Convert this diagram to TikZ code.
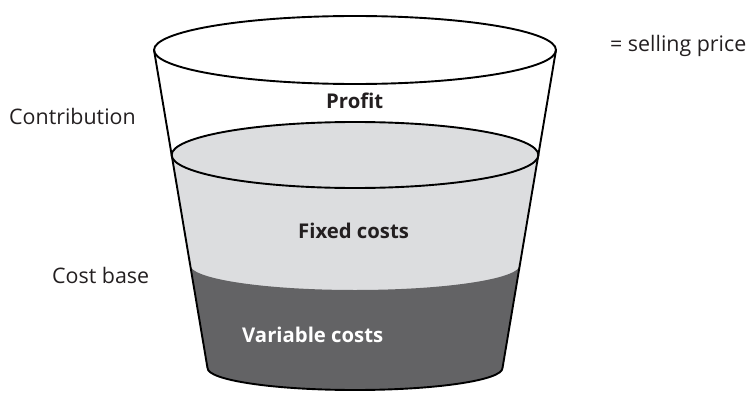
\documentclass[tikz,border=0pt]{standalone}
\usepackage{fontspec}
\setmainfont{Open Sans}
\definecolor{txt}{HTML}{231F20}
\definecolor{lightfill}{HTML}{DCDDDF}
\definecolor{darkfill}{HTML}{636365}
\tikzset{
  lbl/.style={inner sep=0pt, anchor=base west, text=txt, font=\fontsize{21.4}{25}\selectfont},
  blbl/.style={inner sep=0pt, anchor=base west, text=txt, font=\fontsize{20.3}{24}\selectfont\bfseries},
  rim/.style={draw=black, line width=1.9pt},
}
\begin{document}
\begin{tikzpicture}[x=1pt,y=1pt]
\useasboundingbox (0,0) rectangle (752,392);
% named points
\coordinate (tl) at (154,342);
\coordinate (tr) at (556,342);
\coordinate (bl) at (207.5,24);
\coordinate (br) at (502.5,24);
% light grey body
\fill[lightfill] (171.6,237) arc[start angle=180,end angle=0,x radius=183.4,y radius=33]
  -- (br) arc[start angle=0,end angle=-180,x radius=147.5,y radius=22] -- cycle;
% dark grey body
\fill[darkfill] (190.1,127) arc[start angle=180,end angle=360,x radius=164.9,y radius=25]
  -- (br) arc[start angle=0,end angle=-180,x radius=147.5,y radius=22] -- cycle;
% outlines
\draw[rim] (355,342) ellipse[x radius=201,y radius=34];
\draw[rim] (355,237) ellipse[x radius=183.4,y radius=33];
\draw[rim] (tl) -- (bl);
\draw[rim] (tr) -- (br);
\draw[rim] (br) arc[start angle=0,end angle=-180,x radius=147.5,y radius=22];
% labels
\node[blbl] (profit) at (326,284) {Profit};
\node[blbl] (fixed) at (298,154) {Fixed costs};
\node[blbl, text=white] (variable) at (242,50) {Variable costs};
\node[lbl] (contrib) at (9,268) {Contribution};
\node[lbl] (costbase) at (52,109) {Cost base};
\node[lbl] (selling) at (610,341) {= selling price};
\end{tikzpicture}
\end{document}
